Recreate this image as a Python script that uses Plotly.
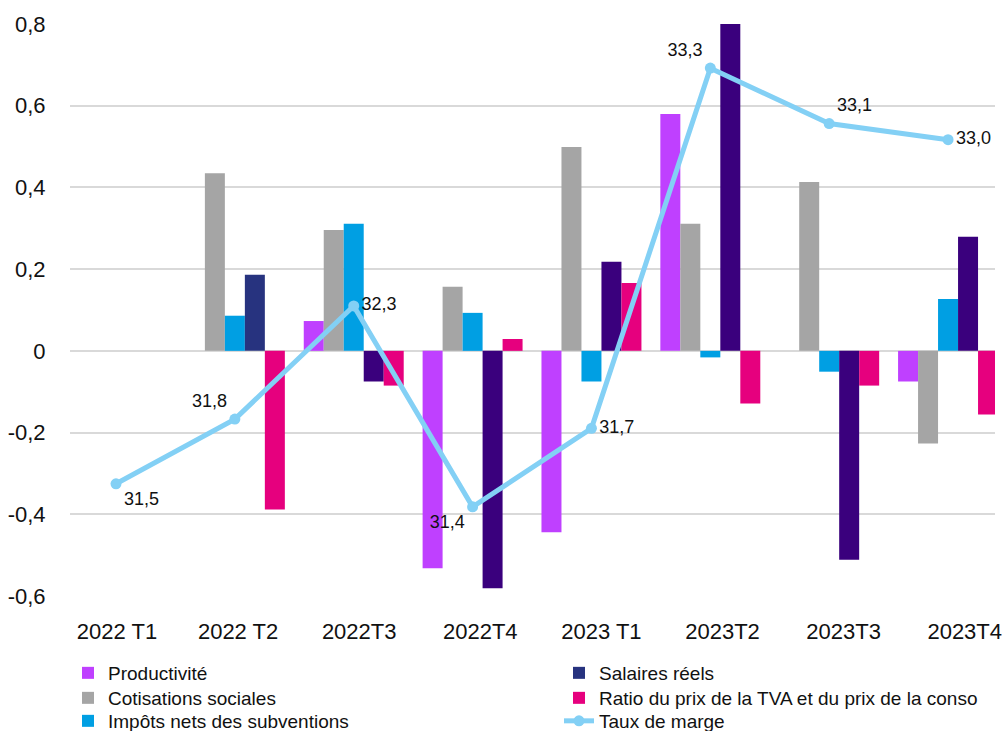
import plotly.graph_objects as go

categories = ["2022 T1", "2022 T2", "2022T3", "2022T4", "2023 T1", "2023T2", "2023T3", "2023T4"]

productivite = [None, None, 0.073, -0.532, -0.444, 0.580, None, -0.075]
cotisations = [None, 0.435, 0.296, 0.157, 0.499, 0.311, 0.413, -0.227]
impots = [None, 0.086, 0.311, 0.093, -0.075, -0.016, -0.051, 0.127]
salaires = [None, 0.186, -0.075, -0.581, 0.218, 0.800, -0.511, 0.279]
ratio = [None, -0.388, -0.085, 0.029, 0.166, -0.129, -0.085, -0.156]
taux_marge = [31.50, 31.78, 32.27, 31.40, 31.74, 33.30, 33.06, 32.99]

y_ticks = [-0.6, -0.4, -0.2, 0, 0.2, 0.4, 0.6, 0.8]
y_ticktext = ["-0,6", "-0,4", "-0,2", "0", "0,2", "0,4", "0,6", "0,8"]

taux_text_pos = ["bottom right", "top left", "middle right", "bottom left",
                 "middle right", "top left", "top right", "middle right"]

salaires_colors = ["#27337F", "#27337F"] + ["#3A007D"] * 6

FONT = "Liberation Sans, Arial, sans-serif"

fig = go.Figure()
fig.add_trace(go.Bar(name="Productivité", x=categories, y=productivite,
                     marker=dict(color="#BF40FF", line_width=0), legend="legend"))
fig.add_trace(go.Bar(name="Cotisations sociales", x=categories, y=cotisations,
                     marker=dict(color="#A5A5A5", line_width=0), legend="legend2"))
fig.add_trace(go.Bar(name="Impôts nets des subventions", x=categories, y=impots,
                     marker=dict(color="#009FE3", line_width=0), legend="legend3"))
fig.add_trace(go.Bar(name="Salaires réels", x=categories, y=salaires,
                     marker=dict(color=salaires_colors, line_width=0), legend="legend4"))
fig.add_trace(go.Bar(name="Ratio du prix de la TVA et du prix de la conso", x=categories, y=ratio,
                     marker=dict(color="#E6007E", line_width=0), legend="legend5"))
fig.add_trace(go.Scatter(name="Taux de marge", x=categories, y=taux_marge, yaxis="y2",
                         mode="lines+markers+text",
                         line=dict(color="#83D0F5", width=5),
                         marker=dict(color="#83D0F5", size=11),
                         texttemplate="%{y:.1f}", textposition=taux_text_pos,
                         textfont=dict(family=FONT, size=18, color="#111111"),
                         legend="legend6", cliponaxis=False))
# category label axis (no marks drawn)
fig.add_trace(go.Scatter(x=categories, y=[None] * len(categories), xaxis="x2",
                         mode="markers", showlegend=False, hoverinfo="skip"))

legend_font = dict(family=FONT, size=19, color="#111111")


def leg(x, y):
    return dict(orientation="v", x=x, xanchor="left", y=y, yanchor="middle",
                font=legend_font, bgcolor="rgba(0,0,0,0)")


# plot area: 70..995 in page px (925 wide)
PW = 925.0
col1 = (68 - 70) / PW
col2 = (559 - 70) / PW
row1, row2, row3 = -0.1346, -0.1783, -0.2185

fig.update_layout(
    width=1006, height=731,
    paper_bgcolor="white", plot_bgcolor="white",
    separators=", ",
    barmode="group", bargap=0.159, bargroupgap=0,
    margin=dict(l=70, r=11, t=24, b=135, autoexpand=False),
    font=dict(family=FONT, size=22, color="#111111"),
    xaxis=dict(type="category", showgrid=False, showline=False, zeroline=False,
               range=[-0.387, 7.395], showticklabels=False, ticks=""),
    xaxis2=dict(type="category", overlaying="x", anchor="y", side="bottom",
                range=[-0.388, 7.25], showgrid=False, showline=False, zeroline=False,
                ticks="outside", ticklen=16, tickcolor="rgba(0,0,0,0)",
                tickfont=dict(family=FONT, size=22, color="#111111")),
    yaxis=dict(range=[-0.6, 0.8], tickvals=y_ticks, ticktext=y_ticktext,
               showgrid=True, gridcolor="#D9D9D9", gridwidth=1.5, zeroline=False,
               showline=False, ticks="outside", ticklen=19, tickcolor="rgba(0,0,0,0)",
               tickfont=dict(family=FONT, size=22, color="#111111")),
    yaxis2=dict(overlaying="y", range=[31.014, 33.491], visible=False),
    legend=leg(col1, row1),
    legend2=leg(col1, row2),
    legend3=leg(col1, row3),
    legend4=leg(col2, row1),
    legend5=leg(col2, row2),
    legend6=leg(col2, row3),
    showlegend=True,
)

fig.write_html(
    "out.html",
    config={"displayModeBar": False},
    post_script="document.body.style.margin='0';document.body.style.overflow='hidden';",
)
